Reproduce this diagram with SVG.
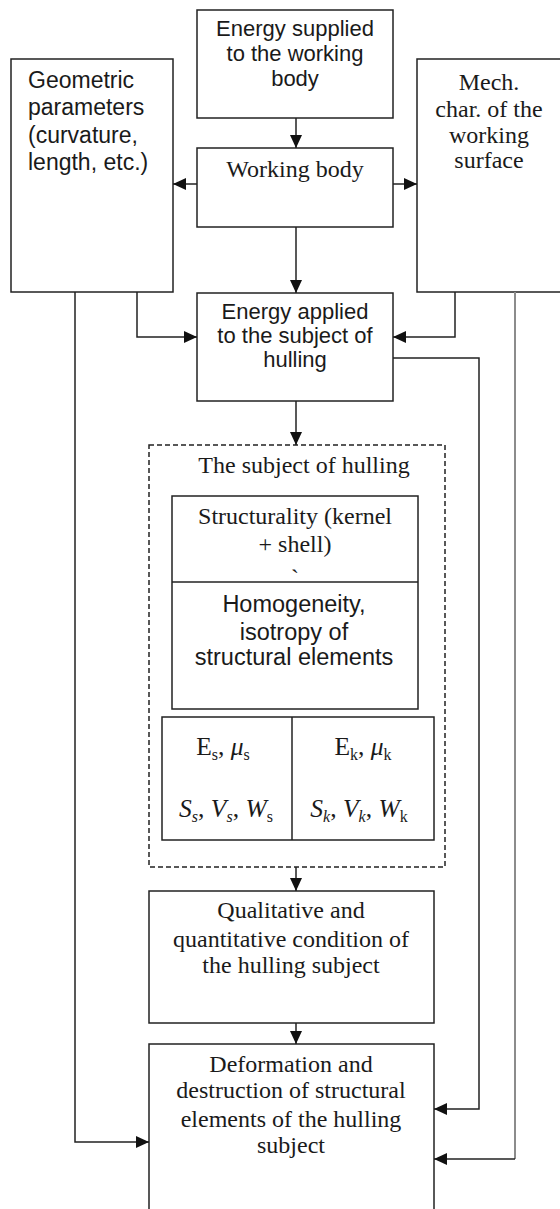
<svg xmlns="http://www.w3.org/2000/svg" width="560" height="1209" viewBox="0 0 560 1209">
  <style>
    .box { fill: #ffffff; stroke: #222222; stroke-width: 1.5; }
    .dash { fill: none; stroke: #222222; stroke-width: 1.5; stroke-dasharray: 5 3; }
    .sans { font-family: "Liberation Sans", Arial, sans-serif; font-size: 22px; fill: #1a1a1a; }
    .sans-l { font-size: 23px; }
    .sans-xl { font-size: 23.5px; }
    .serif { font-family: "Liberation Serif", "Times New Roman", serif; font-size: 24px; fill: #1a1a1a; }
    .math { font-size: 25.5px; }
    .c { text-anchor: middle; }
    .it { font-style: italic; }
    .sub { font-size: 16px; }
    .wire { fill: none; stroke: #222222; stroke-width: 1.5; }
    .grey { fill: none; stroke: #8c8c8c; stroke-width: 2; }
  </style>
  <defs>
    <marker id="arrow" markerUnits="userSpaceOnUse" markerWidth="13" markerHeight="12" refX="13" refY="6" orient="auto">
      <path d="M0,0 L13,6 L0,12 z" fill="#111111"/>
    </marker>
  </defs>
  <rect width="560" height="1209" fill="#ffffff"/>

  <g id="energy-supplied">
    <rect class="box" x="197" y="10" width="196" height="108"/>
    <text class="sans c" x="295" y="36">Energy supplied</text>
    <text class="sans c" x="295" y="61">to the working</text>
    <text class="sans c" x="295" y="86">body</text>
  </g>

  <g id="geometric-parameters">
    <rect class="box" x="11" y="59" width="162" height="233"/>
    <text class="sans sans-l" x="28" y="88">Geometric</text>
    <text class="sans sans-l" x="28" y="115">parameters</text>
    <text class="sans sans-l" x="28" y="143">(curvature,</text>
    <text class="sans sans-l" x="28" y="170">length, etc.)</text>
  </g>

  <g id="mech-characteristics">
    <rect class="box" x="417" y="59" width="150" height="233"/>
    <text class="serif c" x="489" y="90">Mech.</text>
    <text class="serif c" x="489" y="117">char. of the</text>
    <text class="serif c" x="489" y="143">working</text>
    <text class="serif c" x="489" y="168">surface</text>
  </g>

  <g id="working-body">
    <rect class="box" x="197" y="148" width="196" height="79"/>
    <text class="serif c" x="295" y="177">Working body</text>
  </g>

  <g id="energy-applied">
    <rect class="box" x="197" y="293" width="196" height="108"/>
    <text class="sans c" x="295" y="319">Energy applied</text>
    <text class="sans c" x="295" y="343">to the subject of</text>
    <text class="sans c" x="295" y="367">hulling</text>
  </g>

  <g id="subject-of-hulling">
    <rect class="dash" x="149" y="445" width="296" height="422"/>
    <text class="serif c" x="304" y="473">The subject of hulling</text>
    <rect class="box" x="172" y="496" width="246" height="213"/>
    <line class="wire" x1="172" y1="582" x2="418" y2="582"/>
    <text class="serif c" x="295" y="524">Structurality (kernel</text>
    <text class="serif c" x="295" y="552">+ shell)</text>
    <text class="serif c" x="295" y="586">`</text>
    <text class="sans sans-xl c" x="294" y="612">Homogeneity,</text>
    <text class="sans sans-xl c" x="294" y="640">isotropy of</text>
    <text class="sans sans-xl c" x="294" y="665">structural elements</text>
    <rect class="box" x="162" y="717" width="272" height="123"/>
    <line class="wire" x1="292" y1="717" x2="292" y2="840"/>
    <text class="serif math c" x="223" y="755">E<tspan class="sub" dy="5">s</tspan><tspan dy="-5">, </tspan><tspan class="it">μ</tspan><tspan class="sub" dy="5">s</tspan></text>
    <text class="serif math c" x="363" y="755">E<tspan class="sub" dy="5">k</tspan><tspan dy="-5">, </tspan><tspan class="it">μ</tspan><tspan class="sub" dy="5">k</tspan></text>
    <text class="serif math c" x="226" y="817"><tspan class="it">S</tspan><tspan class="sub it" dy="5">s</tspan><tspan dy="-5">, </tspan><tspan class="it">V</tspan><tspan class="sub it" dy="5">s</tspan><tspan dy="-5">, </tspan><tspan class="it">W</tspan><tspan class="sub" dy="5">s</tspan></text>
    <text class="serif math c" x="359" y="817"><tspan class="it">S</tspan><tspan class="sub it" dy="5">k</tspan><tspan dy="-5">, </tspan><tspan class="it">V</tspan><tspan class="sub it" dy="5">k</tspan><tspan dy="-5">, </tspan><tspan class="it">W</tspan><tspan class="sub" dy="5">k</tspan></text>
  </g>

  <g id="condition">
    <rect class="box" x="149" y="891" width="285" height="132"/>
    <text class="serif c" x="291" y="918">Qualitative and</text>
    <text class="serif c" x="291" y="947">quantitative condition of</text>
    <text class="serif c" x="291" y="973">the hulling  subject</text>
  </g>

  <g id="deformation">
    <rect class="box" x="149" y="1044" width="285" height="170"/>
    <text class="serif c" x="291" y="1072">Deformation and</text>
    <text class="serif c" x="291" y="1098">destruction of structural</text>
    <text class="serif c" x="291" y="1127">elements of the hulling</text>
    <text class="serif c" x="291" y="1153">subject</text>
  </g>

  <g id="connectors">
    <path class="wire" d="M296,118 V148" marker-end="url(#arrow)"/>
    <path class="wire" d="M197,184 H173" marker-end="url(#arrow)"/>
    <path class="wire" d="M393,184 H417" marker-end="url(#arrow)"/>
    <path class="wire" d="M296,227 V293" marker-end="url(#arrow)"/>
    <path class="wire" d="M137,292 V337 H197" marker-end="url(#arrow)"/>
    <path class="wire" d="M455,292 V337 H393" marker-end="url(#arrow)"/>
    <path class="wire" d="M296,401 V445" marker-end="url(#arrow)"/>
    <path class="wire" d="M393,358 H479 V1109 H434" marker-end="url(#arrow)"/>
    <path class="wire" d="M75,292 V1142 H149" marker-end="url(#arrow)"/>
    <path class="grey" d="M515,292 V1159"/>
    <path class="wire" d="M515,1159 H434" marker-end="url(#arrow)"/>
    <path class="wire" d="M296,867 V891" marker-end="url(#arrow)"/>
    <path class="wire" d="M296,1023 V1044" marker-end="url(#arrow)"/>
  </g>
</svg>
